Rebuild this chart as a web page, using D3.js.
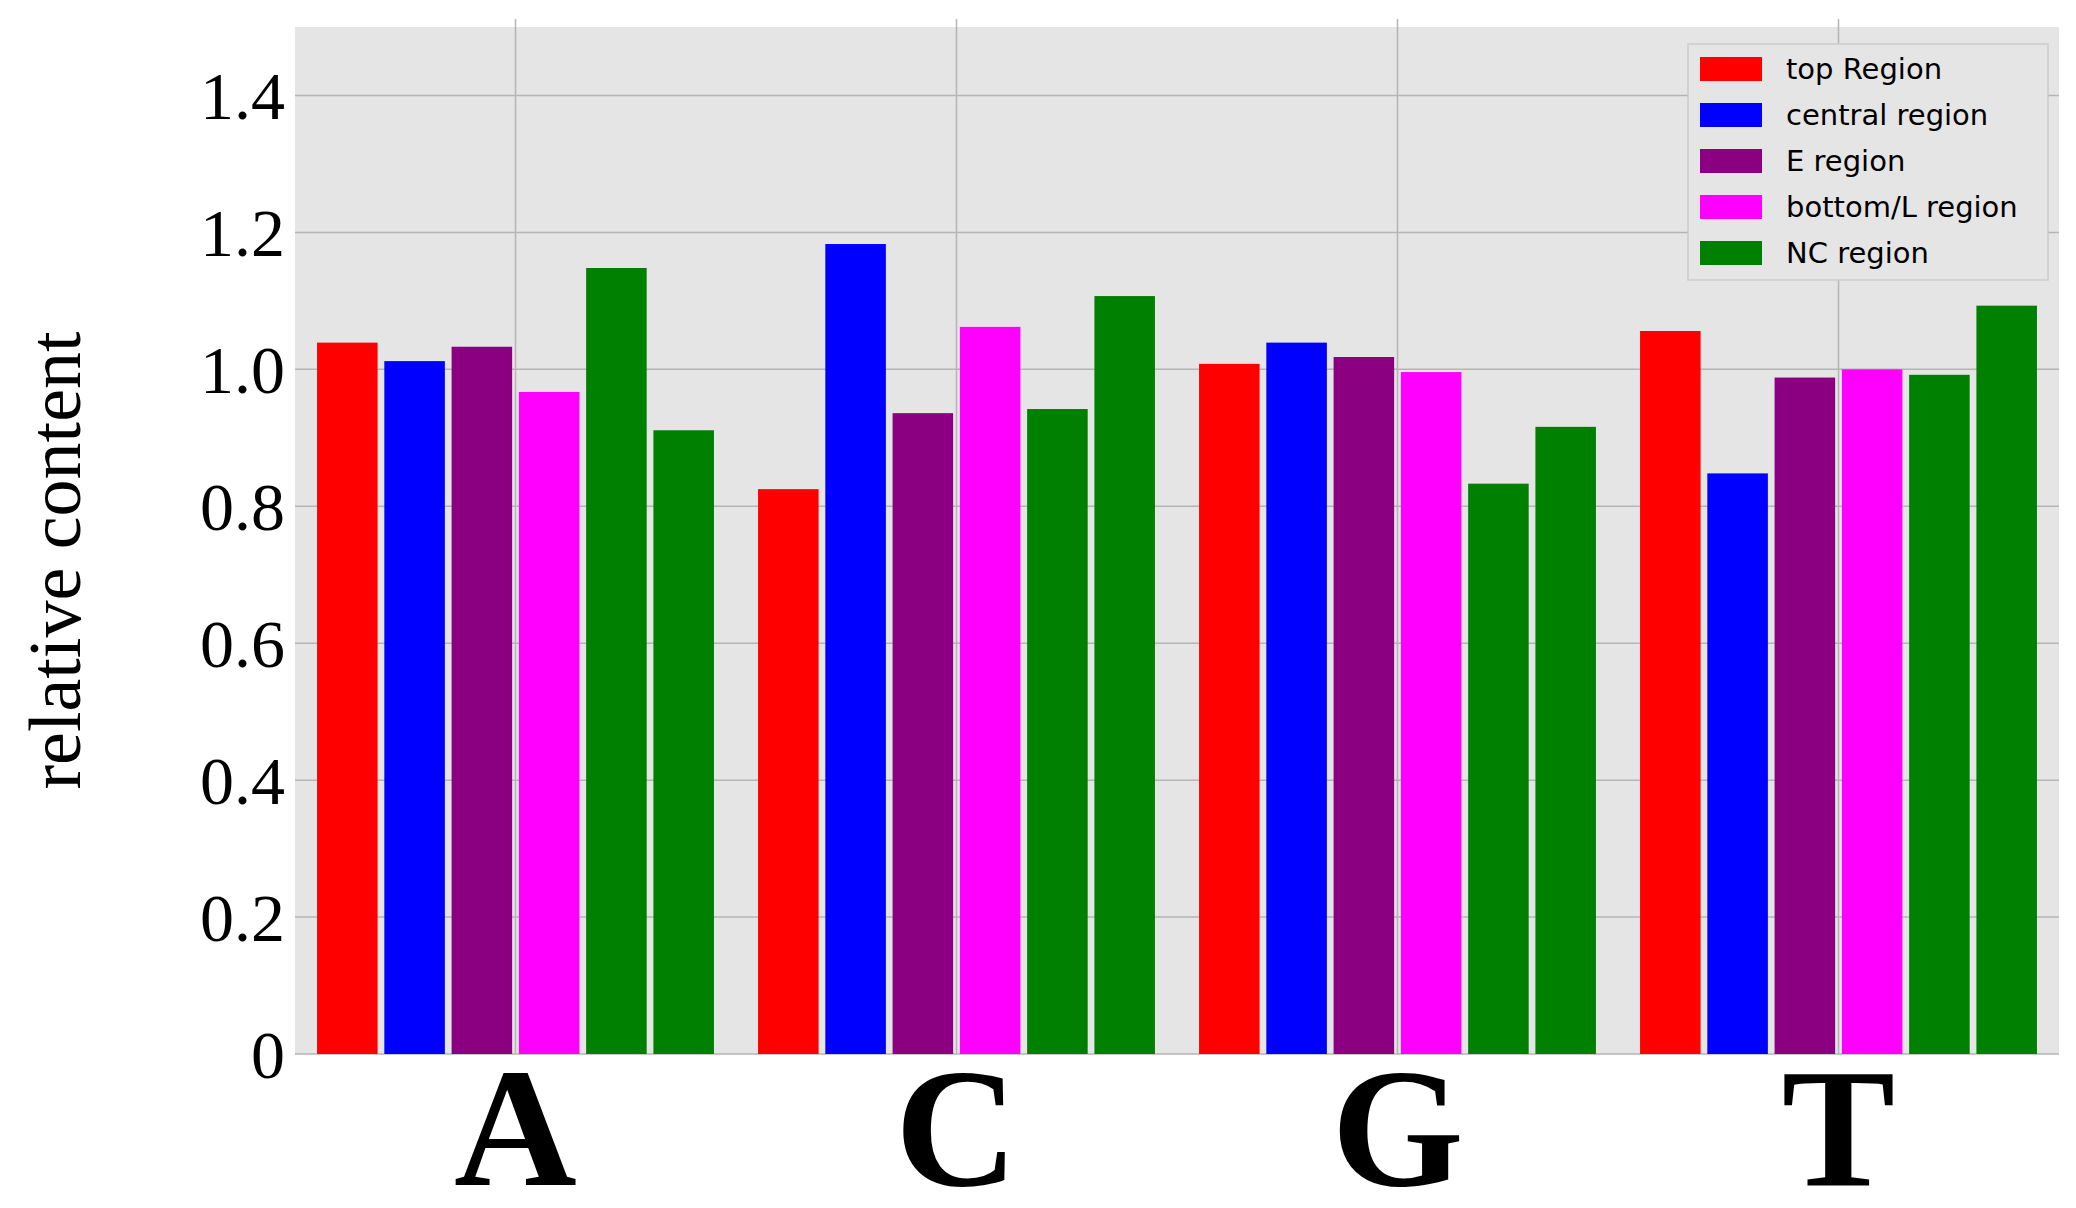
<!DOCTYPE html>
<html><head><meta charset="utf-8">
<script src="https://cdn.jsdelivr.net/npm/d3@7"></script>
<style>body{margin:0;background:#fff}</style>
</head><body>
<svg id="chart" width="2076" height="1208"></svg>
<script>
var categories = ["A", "C", "G", "T"];
var seriesNames = ["top Region", "central region", "E region", "bottom/L region", "NC region", ""];
var seriesColors = ["#ff0000", "#0000ff", "#8b0080", "#ff00ff", "#008000", "#008000"];
var topRegion = [1.039, 0.825, 1.008, 1.056];
var centralRegion = [1.012, 1.183, 1.039, 0.848];
var eRegion = [1.033, 0.936, 1.018, 0.988];
var bottomRegion = [0.967, 1.062, 0.996, 1.000];
var ncRegion = [1.148, 0.942, 0.833, 0.992];
var ncRegion2 = [0.911, 1.107, 0.916, 1.093];
var yTicks = [0, 0.2, 0.4, 0.6, 0.8, 1.0, 1.2, 1.4];
var series = [topRegion, centralRegion, eRegion, bottomRegion, ncRegion, ncRegion2];

var svg = d3.select("#chart");
var plotLeft = 295, plotRight = 2059, plotTop = 27, plotBottom = 1054;

var x = d3.scaleBand().domain(categories).range([plotLeft, plotRight]).paddingInner(0.1).paddingOuter(0.05);
var xs = d3.scaleBand().domain(d3.range(series.length)).range([0, x.bandwidth()]).paddingInner(0.1);
var y = d3.scaleLinear().domain([0, 1.5]).range([plotBottom, plotTop]);

svg.append("rect").attr("x", plotLeft).attr("y", plotTop).attr("width", plotRight - plotLeft).attr("height", plotBottom - plotTop).attr("fill", "#e5e5e5");

// grid
svg.selectAll(".hg").data(yTicks).enter().append("line")
  .attr("x1", plotLeft).attr("x2", plotRight).attr("y1", function(d) { return y(d); }).attr("y2", function(d) { return y(d); })
  .attr("stroke", "#b5b5b5").attr("stroke-width", 1.5);
svg.selectAll(".vg").data(categories).enter().append("line")
  .attr("x1", function(d) { return x(d) + x.bandwidth() / 2; }).attr("x2", function(d) { return x(d) + x.bandwidth() / 2; })
  .attr("y1", plotTop - 8).attr("y2", plotBottom).attr("stroke", "#b5b5b5").attr("stroke-width", 1.5);

// bars
series.forEach(function(vals, si) {
  svg.append("g").selectAll("rect").data(vals).enter().append("rect")
    .attr("x", function(d, i) { return x(categories[i]) + xs(si); })
    .attr("y", function(d) { return y(d); })
    .attr("width", xs.bandwidth())
    .attr("height", function(d) { return plotBottom - y(d); })
    .attr("fill", seriesColors[si]);
});

// y axis labels
svg.selectAll(".yl").data(yTicks).enter().append("text")
  .attr("x", 285).attr("y", function(d) { return y(d); }).attr("dy", "0.35em")
  .attr("text-anchor", "end").attr("font-family", "Liberation Serif").attr("font-size", 68)
  .text(function(d) { return d === 0 ? "0" : d.toFixed(1); });

// x category labels
svg.selectAll(".xl").data(categories).enter().append("text")
  .attr("x", function(d) { return x(d) + x.bandwidth() / 2; }).attr("y", 1185)
  .attr("text-anchor", "middle").attr("font-family", "Liberation Serif").attr("font-weight", "bold").attr("font-size", 170)
  .text(function(d) { return d; });

svg.append("text").attr("transform", "translate(80," + ((plotTop + plotBottom) / 2 + 20) + ") rotate(-90)")
  .attr("text-anchor", "middle").attr("font-family", "Liberation Serif").attr("font-size", 74)
  .text("relative content");

// legend
var lg = svg.append("g").attr("transform", "translate(1688,44)");
lg.append("rect").attr("width", 360).attr("height", 236).attr("fill", "#e5e5e5").attr("stroke", "#cccccc").attr("stroke-width", 1.5);
seriesNames.slice(0, 5).forEach(function(name, i) {
  lg.append("rect").attr("x", 12).attr("y", 13 + i * 46).attr("width", 62).attr("height", 24).attr("fill", seriesColors[i]);
  lg.append("text").attr("x", 98).attr("y", 25 + i * 46).attr("dy", "0.35em")
    .attr("font-family", "DejaVu Sans").attr("font-size", 29).text(name);
});
</script>
</body></html>
